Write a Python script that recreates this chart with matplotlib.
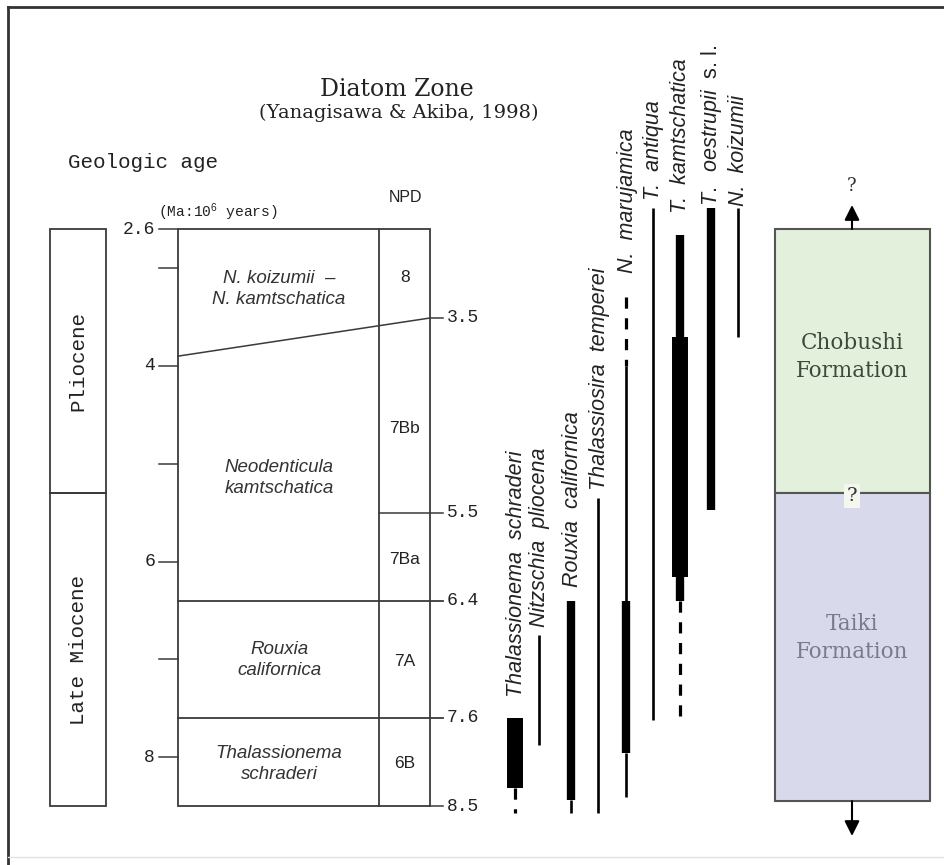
import matplotlib
matplotlib.use('Agg')
import matplotlib.pyplot as plt
from matplotlib.patches import Rectangle

plt.rcParams['mathtext.fontset'] = 'custom'
plt.rcParams['mathtext.rm'] = 'Liberation Sans'
plt.rcParams['mathtext.it'] = 'Liberation Sans:italic'

# ---- data (ages in Ma) ----
left_ticks = [2.6, 4, 6, 8]
left_minor = [3, 5, 7]
right_ticks = [3.5, 5.5, 6.4, 7.6, 8.5]
epochs = ['Pliocene', 'Late Miocene']
epoch_bounds = [2.6, 5.3, 8.5]

zone_names = ['N. koizumii  \u2013\nN. kamtschatica', 'Neodenticula\nkamtschatica',
              'Rouxia\ncalifornica', 'Thalassionema\nschraderi']
npd_codes = ['8', '7Bb', '7Ba', '7A', '6B']

species = ['Thalassionema  schraderi', 'Nitzschia  pliocena', 'Rouxia  californica',
           'Thalassiosira  temperei', 'N.  marujamica', 'T.  antiqua',
           'T.  kamtschatica', r'$\mathit{T.\ \ oestrupii}$  s. l.', 'N.  koizumii']
ranges = [
    [(7.6, 8.32, 'thick'), (8.32, 8.57, 'dashed')],
    [(6.75, 7.88, 'thin')],
    [(6.4, 8.44, 'medium'), (8.44, 8.57, 'thin')],
    [(5.35, 8.57, 'thin')],
    [(3.3, 4.0, 'dashed'), (4.0, 6.4, 'thin'), (6.4, 7.96, 'medium'), (7.96, 8.41, 'thin')],
    [(2.39, 7.62, 'thin')],
    [(2.66, 3.7, 'medium'), (3.7, 6.16, 'thick'), (6.16, 6.4, 'medium'), (6.4, 7.6, 'dashed')],
    [(2.39, 5.47, 'medium')],
    [(2.39, 3.7, 'thin')],
]

formations = ['Chobushi\nFormation', 'Taiki\nFormation']
formation_bounds = [2.6, 5.3, 8.45]

# ---- layout ----
def age_at(py):
    # pixel row -> age, the figure's vertical scale
    return 2.6 + (py - 229) / 97.8

fig = plt.figure(figsize=(9.44, 8.65), dpi=100)
ax = fig.add_axes([0, 0, 1, 1])
ax.set_xlim(0, 944)
ax.set_ylim(age_at(865), age_at(0))
ax.axis('off')

line_c = '#3a3a3a'
txt_c = '#222222'
mono = 'Liberation Mono'
narrow = ['Liberation Sans Narrow', 'Liberation Sans']

# outer frame
ax.plot([8, 8], [age_at(7), age_at(865)], color='#333333', lw=2)
ax.plot([8, 944], [age_at(7), age_at(7)], color='#333333', lw=2)
ax.plot([8, 944], [age_at(857), age_at(857)], color='#e2e2e2', lw=1)

# titles
ax.text(397, age_at(89), 'Diatom Zone', family='DejaVu Serif', fontsize=17,
        ha='center', va='center', color=txt_c)
ax.text(399, age_at(113), '(Yanagisawa & Akiba, 1998)', family='DejaVu Serif',
        fontsize=14, ha='center', va='center', color=txt_c)
ax.text(68, age_at(162), 'Geologic age', family=mono, fontsize=15,
        ha='left', va='center', color=txt_c)
ax.text(218, age_at(212), '(Ma:10$^6$ years)', family=mono, fontsize=10.5,
        ha='center', va='center', color=txt_c)
ax.text(405, age_at(197), 'NPD', family=narrow, fontsize=11.5,
        ha='center', va='center', color=txt_c)

# epoch column
for i, name in enumerate(epochs):
    top, base = epoch_bounds[i], epoch_bounds[i + 1]
    ax.add_patch(Rectangle((50, top), 56, base - top, fill=False, ec=line_c, lw=1.3))
    ax.text(78, (top + base) / 2, name, family=mono, fontsize=15, rotation=90,
            ha='center', va='center', color=txt_c)

# left scale
for a in left_ticks:
    ax.plot([159, 178], [a, a], color=line_c, lw=1.1)
    ax.text(155, a, f'{a:g}', family=mono, fontsize=13, ha='right', va='center',
            color=txt_c)
for a in left_minor:
    ax.plot([159, 178], [a, a], color=line_c, lw=1.1)

# zone box
ax.add_patch(Rectangle((178, 2.6), 252, 8.5 - 2.6, fill=False, ec=line_c, lw=1.3))
ax.plot([379, 379], [2.6, 8.5], color=line_c, lw=1.3)
ax.plot([178, 430, 443], [3.9, 3.51, 3.51], color=line_c, lw=1.1)
ax.plot([379, 443], [5.5, 5.5], color=line_c, lw=1.1)
ax.plot([178, 443], [6.4, 6.4], color=line_c, lw=1.3)
ax.plot([178, 443], [7.6, 7.6], color=line_c, lw=1.3)
ax.plot([430, 443], [8.5, 8.5], color=line_c, lw=1.1)
for a in right_ticks:
    ax.text(447, a, f'{a:g}', family=mono, fontsize=13, ha='left', va='center',
            color=txt_c)

zone_y = [289, 478, 660, 764]
for name, py in zip(zone_names, zone_y):
    ax.text(279, age_at(py), name, family='Liberation Sans', style='italic',
            fontsize=13.5, ha='center', va='center', color='#333333',
            linespacing=1.35)
npd_y = [278, 428, 560, 662, 763]
for code, py in zip(npd_codes, npd_y):
    ax.text(405, age_at(py), code, family=narrow, fontsize=12.5,
            ha='center', va='center', color=txt_c)

# species ranges
col_x = [515, 539, 571, 598, 626, 653, 680, 711, 738]
label_bottom = [697, 627, 587, 490, 273, 200, 213, 206, 206]
widths = {'thin': 1.9, 'medium': 6.0, 'thick': 11.5, 'dashed': 2.3}
for x, segs in zip(col_x, ranges):
    for top, base, kind in segs:
        ls = (0, (3.5, 3)) if kind == 'dashed' else '-'
        ax.plot([x, x], [top, base], color='black', lw=widths[kind],
                solid_capstyle='butt', dash_capstyle='butt', linestyle=ls)
for x, name, py in zip(col_x, species, label_bottom):
    italic = 'normal' if name.startswith('$') else 'italic'
    ax.text(x + 1, age_at(py), name, family='Liberation Sans', style=italic,
            fontsize=15.5, rotation=90, ha='center', va='bottom', color=txt_c)

# formation column
fcols = ['#e2f0dc', '#d8d9ea']
ftext = ['#3c4a3c', '#7a7a8c']
for i, name in enumerate(formations):
    top, base = formation_bounds[i], formation_bounds[i + 1]
    ax.add_patch(Rectangle((775, top), 155, base - top, fc=fcols[i], ec='#555555',
                           lw=1.5))
ax.text(852, age_at(357), formations[0], family='DejaVu Serif', fontsize=15.5,
        ha='center', va='center', color=ftext[0], linespacing=1.3)
ax.text(852, age_at(638), formations[1], family='DejaVu Serif', fontsize=15.5,
        ha='center', va='center', color=ftext[1], linespacing=1.3)
ax.text(852, age_at(496), '?', family='DejaVu Serif', fontsize=14, ha='center',
        va='center', color='#333333',
        bbox=dict(boxstyle='square,pad=0.15', fc='#f4f6f0', ec='none'))
ax.annotate('', xy=(852, age_at(205)), xytext=(852, 2.6),
            arrowprops=dict(arrowstyle='-|>,head_width=0.45,head_length=0.9',
                            color='black', lw=1.5, shrinkA=0, shrinkB=0))
ax.annotate('', xy=(852, age_at(836)), xytext=(852, 8.45),
            arrowprops=dict(arrowstyle='-|>,head_width=0.45,head_length=0.9',
                            color='black', lw=1.5, shrinkA=0, shrinkB=0))
ax.text(852, age_at(186), '?', family='DejaVu Serif', fontsize=13, ha='center',
        va='center', color='#333333')

fig.savefig('out.png', dpi=100, facecolor='white')
